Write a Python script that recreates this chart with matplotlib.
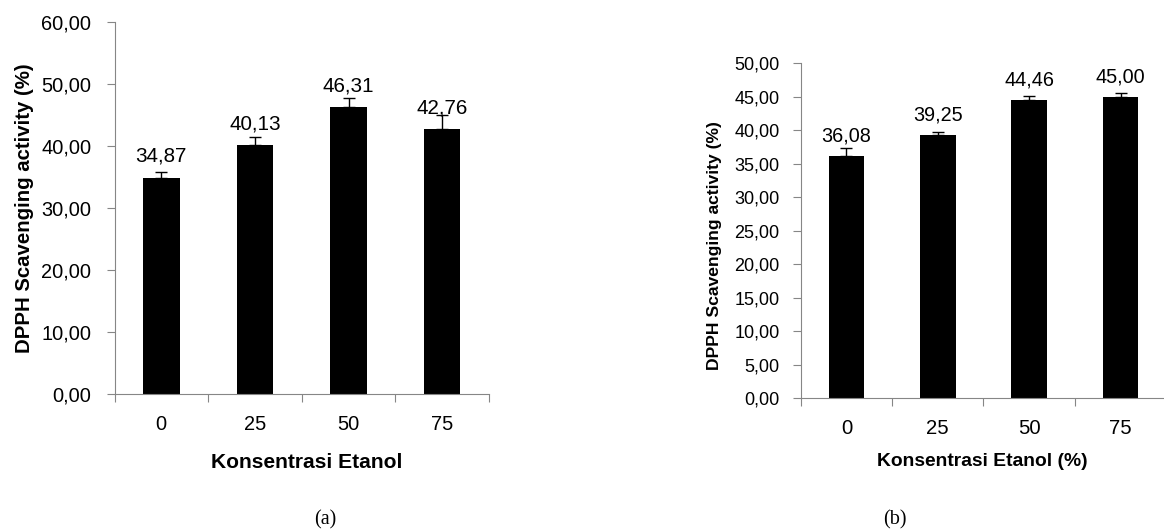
import numpy as np
import matplotlib.pyplot as plt
from matplotlib.ticker import FuncFormatter, FixedLocator

plt.rcParams['font.family'] = ['Liberation Sans', 'DejaVu Sans']

categories = ['0', '25', '50', '75']
# (a) Konsentrasi Etanol
vals_a = [34.87, 40.13, 46.31, 42.76]
err_a = [0.85, 1.25, 1.45, 2.2]
# (b) Konsentrasi Etanol (%)
vals_b = [36.08, 39.25, 44.46, 45.00]
err_b = [1.2, 0.5, 0.65, 0.6]

W, H = 1164, 531
gray = '#868686'

fig = plt.figure(figsize=(W / 100, H / 100), dpi=100)


def comma(v, pos=None):
    return f'{v:.2f}'.replace('.', ',')


def panel(rect, vals, errs, ymax, ystep, xlim_r, fs_tick, fs_val, fs_xt, fs_lab,
          xlabel, xlab_xy, ylab_xy, ypad, label_off):
    ax = fig.add_axes(rect)
    x = np.arange(len(vals))
    ax.bar(x, vals, width=0.39, color='black', zorder=2)
    ax.errorbar(x, vals, yerr=[np.zeros(len(errs)), errs], fmt='none',
                ecolor='black', elinewidth=1.0, capsize=4.3, capthick=1.0, zorder=3)
    for xi, v in zip(x, vals):
        ax.annotate(comma(v), (xi, v), xytext=(0, label_off), textcoords='offset points',
                    ha='center', va='baseline', fontsize=fs_val)
    ax.set_xlim(-0.5, xlim_r)
    ax.set_ylim(0, ymax)
    ax.set_yticks(np.arange(0, ymax + 0.01, ystep))
    ax.yaxis.set_major_formatter(FuncFormatter(comma))
    ax.set_xticks(x)
    ax.set_xticklabels(categories)
    ax.xaxis.set_minor_locator(FixedLocator(np.arange(-0.5, len(vals), 1.0)))
    for s in ['top', 'right']:
        ax.spines[s].set_visible(False)
    for s in ['left', 'bottom']:
        ax.spines[s].set_color(gray)
        ax.spines[s].set_linewidth(0.8)
    ax.tick_params(axis='y', direction='out', length=5.8, width=0.8, color=gray,
                   labelsize=fs_tick, pad=ypad)
    ax.tick_params(axis='x', which='major', length=0, labelsize=fs_xt, pad=15)
    ax.tick_params(axis='x', which='minor', direction='out', length=5.8, width=0.8, color=gray)
    ax.set_xlabel(xlabel, fontsize=fs_lab, fontweight='bold', va='center')
    ax.xaxis.set_label_coords(*xlab_xy)
    ax.set_ylabel('DPPH Scavenging activity (%)', fontsize=fs_lab - (0.4 if ymax == 60 else 1.3),
                  fontweight='bold', va='center')
    ax.yaxis.set_label_coords(*ylab_xy)
    return ax


# left panel: axis x 114.5..489, y 21.7..393.7 px
panel([114.5 / W, (H - 393.7) / H, 374.5 / W, 372 / H], vals_a, err_a, 60, 10, 3.5,
      14.4, 14.9, 14.4, 15.1, 'Konsentrasi Etanol', (0.514, -0.184), (-0.240, 0.50), 10.8, 11.2)

# right panel: axis x 800.7..1164, y 63.3..398 px
panel([800.7 / W, (H - 398) / H, 363.3 / W, 334.7 / H], vals_b, err_b, 50, 5, 3.475,
      13.0, 14.3, 14.6, 13.9, 'Konsentrasi Etanol (%)', (0.499, -0.19), (-0.2386, 0.454), 9.4, 10.6)

fig.text(325 / W, 1 - 520 / H, '(a)', family=['Liberation Serif', 'DejaVu Serif'],
         fontsize=14.5, ha='center', va='center')
fig.text(895 / W, 1 - 520 / H, '(b)', family=['Liberation Serif', 'DejaVu Serif'],
         fontsize=14.5, ha='center', va='center')

fig.savefig('out.png', dpi=100)
